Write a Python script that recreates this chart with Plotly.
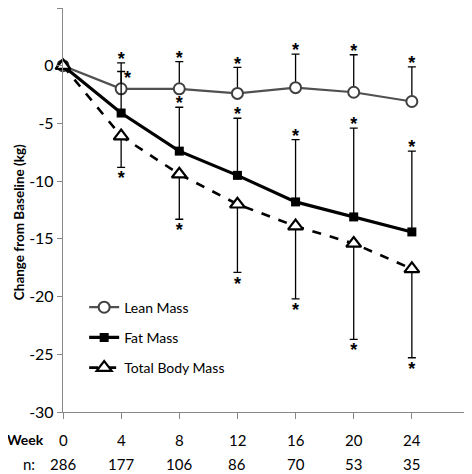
import plotly.graph_objects as go

weeks = [0, 4, 8, 12, 16, 20, 24]
n_counts = [286, 177, 106, 86, 70, 53, 35]
lean = [0, -2.0, -2.0, -2.4, -1.9, -2.3, -3.1]
lean_top = [0, 0.25, 0.35, -0.15, 1.0, 0.95, -0.1]
fat = [0, -4.1, -7.4, -9.5, -11.8, -13.1, -14.4]
fat_top = [0, -0.5, -3.6, -4.55, -6.4, -5.4, -7.4]
total = [0, -6.1, -9.4, -12.0, -13.9, -15.4, -17.6]
total_bottom = [0, -8.8, -13.3, -17.9, -20.2, -23.7, -25.3]
y_ticks = [-30, -25, -20, -15, -10, -5, 0, 5]

FONT = "Lato, Liberation Sans, sans-serif"

fig = go.Figure()

eb = dict(type="data", symmetric=False, color="black", thickness=1.3, width=4)

fig.add_trace(go.Scatter(
    x=weeks, y=lean, name="Lean Mass", legendgroup="a", cliponaxis=False,
    mode="lines+markers",
    line=dict(color="#505050", width=2.2),
    marker=dict(symbol="circle", size=11, color="white", line=dict(color="#404040", width=2)),
    error_y=dict(**eb, array=[t - v for t, v in zip(lean_top, lean)], arrayminus=[0]*7),
))
fig.add_trace(go.Scatter(
    x=weeks, y=fat, name="Fat Mass", legendgroup="b", cliponaxis=False,
    mode="lines+markers",
    line=dict(color="black", width=3.2),
    marker=dict(symbol="square", size=9, color="black"),
    error_y=dict(**eb, array=[t - v for t, v in zip(fat_top, fat)], arrayminus=[0]*7),
))
fig.add_trace(go.Scatter(
    x=weeks, y=total, name="Total Body Mass", legendgroup="c", cliponaxis=False,
    mode="lines+markers",
    line=dict(color="black", width=2.6, dash="dash"),
    marker=dict(symbol="triangle-up", size=13, color="white", line=dict(color="black", width=2.2)),
    error_y=dict(**eb, array=[0]*7, arrayminus=[v - b for v, b in zip(total, total_bottom)]),
))

# asterisks
ast_x, ast_y, ast_pos = [], [], []
for i in range(1, 7):
    ast_x.append(weeks[i]); ast_y.append(lean_top[i] + 0.2); ast_pos.append("middle center")
    if i == 1:
        ast_x.append(weeks[i] + 0.2); ast_y.append(fat_top[i] - 0.7); ast_pos.append("middle right")
    else:
        ast_x.append(weeks[i]); ast_y.append(fat_top[i] + 0.2); ast_pos.append("middle center")
    ast_x.append(weeks[i]); ast_y.append(total_bottom[i] - 1.1); ast_pos.append("middle center")
fig.add_trace(go.Scatter(
    x=ast_x, y=ast_y, mode="text", text=["*"] * len(ast_x), textposition=ast_pos, cliponaxis=False,
    textfont=dict(family="Liberation Sans, sans-serif", size=18, color="black", weight="bold"),
    showlegend=False, hoverinfo="skip",
))

annotations = []
for w, n in zip(weeks, n_counts):
    annotations.append(dict(x=w, y=-0.069, xref="x", yref="paper", text=str(w), showarrow=False,
                            font=dict(family=FONT, size=15, color="black"), xanchor="center", yanchor="middle"))
    annotations.append(dict(x=w, y=-0.129, xref="x", yref="paper", text=str(n), showarrow=False,
                            font=dict(family=FONT, size=15, color="black"), xanchor="center", yanchor="middle"))
annotations.append(dict(x=-0.091, y=-0.069, xref="paper", yref="paper", text="<b>Week</b>", showarrow=False,
                        font=dict(family=FONT, size=14, color="black"), xanchor="center", yanchor="middle"))
annotations.append(dict(x=-0.065, y=-0.129, xref="paper", yref="paper", text="n:", showarrow=False,
                        font=dict(family=FONT, size=15, color="black"), xanchor="right", yanchor="middle"))
annotations.append(dict(x=-0.108, y=0.47, xref="paper", yref="paper", text="<b>Change from Baseline (kg)</b>",
                        textangle=-90, showarrow=False,
                        font=dict(family=FONT, size=13.5, color="black"),
                        xanchor="center", yanchor="middle"))

# the page body has an 8px margin, so the figure is sized/offset to fit the 472x474 window
fig.update_layout(
    width=464, height=466,
    margin=dict(l=55, r=2, t=0, b=62, pad=0),
    plot_bgcolor="white", paper_bgcolor="white",
    font=dict(family=FONT, size=15, color="black"),
    showlegend=True,
    legend=dict(x=0.052, y=0.298, xanchor="left", yanchor="top", bgcolor="rgba(0,0,0,0)",
                font=dict(family=FONT, size=14, color="black"), tracegroupgap=9),
    annotations=annotations,
    xaxis=dict(range=[0, 28], tickvals=[0, 4, 8, 12, 16, 20, 24, 28], showticklabels=False,
               ticks="outside", ticklen=6, tickcolor="#888", showline=True, linecolor="#888",
               linewidth=1.3, showgrid=False, zeroline=False),
    yaxis=dict(range=[-30, 5], tickvals=y_ticks, ticktext=[str(v) for v in y_ticks],
               ticks="outside", ticklen=5,
               tickcolor="#888", showline=True, linecolor="#888", linewidth=1.3, showgrid=False,
               zeroline=False, tickfont=dict(family=FONT, size=16, color="black")),
)

fig.write_html("out.html")
